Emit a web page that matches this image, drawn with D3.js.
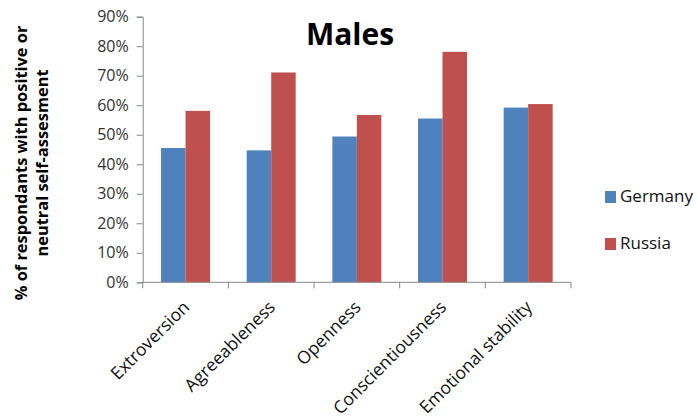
<!DOCTYPE html>
<html><head><meta charset="utf-8">
<script src="https://cdn.jsdelivr.net/npm/d3@7"></script>
<style>body{margin:0;background:#fff}svg{display:block}</style>
</head><body>
<svg id="c" width="697" height="419"></svg>
<script>
const categories = ["Extroversion","Agreeableness","Openness","Conscientiousness","Emotional stability"];
const seriesNames = ["Germany","Russia"];
const germany = [0.455, 0.447, 0.494, 0.555, 0.592];
const russia  = [0.581, 0.711, 0.567, 0.781, 0.604];
const yTicks = [0,0.1,0.2,0.3,0.4,0.5,0.6,0.7,0.8,0.9];
const colors = ["#4F81BD","#C0504D"];

(function(){
const svg = d3.select("#c");
const F = "'Open Sans', sans-serif";
const pLeft = 142.7, pRight = 571, pTop = 16.7, pBottom = 282.3;

const y = d3.scaleLinear().domain([0,0.9]).range([pBottom, pTop]);
const x0 = d3.scaleBand().domain(categories).range([pLeft, pRight]).paddingInner(0.428).paddingOuter(0.214);
const x1 = d3.scaleBand().domain(seriesNames).range([0, x0.bandwidth()]);
const step = x0.step();

const data = categories.map((c,i)=>({cat:c, vals:[germany[i], russia[i]]}));

const g = svg.append("g");
data.forEach(d=>{
  seriesNames.forEach((s,j)=>{
    g.append("rect")
      .attr("x", x0(d.cat)+x1(s))
      .attr("y", y(d.vals[j]))
      .attr("width", x1.bandwidth())
      .attr("height", y(0)-y(d.vals[j]))
      .attr("fill", colors[j]);
  });
});

const ya = svg.append("g").attr("transform",`translate(${pLeft},0)`)
  .call(d3.axisLeft(y).tickValues(yTicks).tickFormat(d3.format(".0%")).tickSize(6).tickPadding(8));
ya.select(".domain").attr("stroke","#868686");
ya.selectAll(".tick line").attr("stroke","#868686");
ya.selectAll("text").attr("font-family",F).attr("font-size","16px").attr("fill","#333");

const xa = svg.append("g");
xa.append("line").attr("x1",pLeft).attr("x2",pRight).attr("y1",pBottom).attr("y2",pBottom).attr("stroke","#868686");
d3.range(categories.length+1).forEach(i=>{
  xa.append("line").attr("x1",pLeft+i*step).attr("x2",pLeft+i*step).attr("y1",pBottom).attr("y2",pBottom+6).attr("stroke","#868686");
});
categories.forEach(c=>{
  const cx = x0(c)+x0.bandwidth()/2;
  xa.append("text").attr("transform",`translate(${cx+5},${pBottom+26}) rotate(-45)`)
    .attr("text-anchor","end").attr("font-family",F).attr("font-size","17.5px").attr("fill","#111")
    .text(c);
});

svg.append("text").attr("x",350).attr("y",45).attr("text-anchor","middle")
  .attr("font-family",F).attr("font-weight","bold").attr("font-size","30px").attr("fill","#000").text("Males");

const yt = svg.append("text").attr("transform","translate(27,163) rotate(-90)")
  .attr("text-anchor","middle").attr("font-family",F).attr("font-weight","bold").attr("font-size","16.4px").attr("fill","#000");
yt.append("tspan").attr("x",0).attr("y",0).text("% of respondants with positive or");
yt.append("tspan").attr("x",0).attr("y",21).text("neutral self-assesment");

seriesNames.forEach((s,j)=>{
  const ly = 191 + j*47;
  svg.append("rect").attr("x",605).attr("y",ly).attr("width",11).attr("height",12).attr("fill",colors[j]);
  svg.append("text").attr("x",620).attr("y",ly+11).attr("font-family",F).attr("font-size","17px").attr("fill","#111").text(s);
});
})();
</script>
</body></html>
